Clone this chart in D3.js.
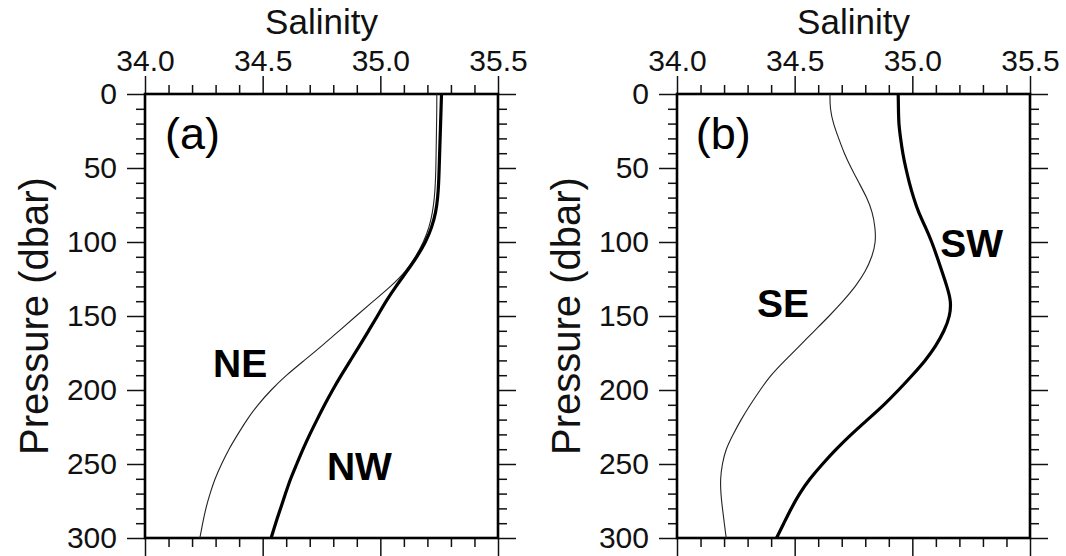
<!DOCTYPE html>
<html><head><meta charset="utf-8">
<script src="https://cdn.jsdelivr.net/npm/d3@7"></script>
<style>body{margin:0;background:#fff}svg{display:block}</style>
</head><body>
<svg id="chart" width="1066" height="556"></svg>
<script>
// ---- data ----
const pressure = [0,10,20,30,40,50,60,70,80,90,100,110,120,130,140,150,160,170,180,190,200,210,220,230,240,250,260,270,280,290,300];
const salNE = [35.24,35.24,35.239,35.238,35.237,35.236,35.234,35.23,35.222,35.208,35.184,35.15,35.108,35.045,34.97,34.897,34.825,34.753,34.677,34.600,34.535,34.479,34.433,34.394,34.356,34.325,34.297,34.276,34.258,34.245,34.233];
const salNW = [35.26,35.258,35.256,35.254,35.252,35.25,35.248,35.244,35.236,35.219,35.193,35.156,35.112,35.066,35.024,34.988,34.95,34.912,34.873,34.834,34.797,34.763,34.731,34.700,34.671,34.645,34.618,34.597,34.576,34.555,34.536];
const salSE = [34.65,34.65,34.664,34.687,34.71,34.74,34.773,34.807,34.831,34.842,34.845,34.829,34.801,34.759,34.706,34.647,34.584,34.522,34.459,34.398,34.353,34.311,34.272,34.238,34.207,34.192,34.184,34.186,34.193,34.201,34.209];
const salSW = [34.94,34.941,34.942,34.95,34.959,34.972,34.987,35.005,35.026,35.056,35.083,35.105,35.126,35.147,35.165,35.16,35.136,35.101,35.056,35.0,34.942,34.88,34.81,34.74,34.676,34.618,34.564,34.52,34.485,34.454,34.423];
const salinityTicks = [34.0,34.5,35.0,35.5];
const salinityMinor = [34.1,34.2,34.3,34.4,34.6,34.7,34.8,34.9,35.1,35.2,35.3,35.4];
const pressureTicks = [0,50,100,150,200,250,300];
const pressureMinor = [10,20,30,40,60,70,80,90,110,120,130,140,160,170,180,190,210,220,230,240,260,270,280,290];
const panelLabels = ["(a)","(b)"];
const seriesNames = [["NE","NW"],["SE","SW"]];

// ---- layout ----
const panelsCfg = [
  {offset:0, label:panelLabels[0], labelAt:[34.085,37],
   series:[{name:seriesNames[0][0], values:salNE, w:1.1, color:"#222", at:[34.289,191]},
           {name:seriesNames[0][1], values:salNW, w:3.2, color:"#000", at:[34.773,261]}]},
  {offset:532, label:panelLabels[1], labelAt:[34.08,37],
   series:[{name:seriesNames[1][0], values:salSE, w:1.1, color:"#222", at:[34.34,151]},
           {name:seriesNames[1][1], values:salSW, w:3.2, color:"#000", at:[35.119,110]}]}
];
const font = "'Liberation Sans', Arial, Helvetica, sans-serif";
const svg = d3.select("#chart");
const X0 = 145, X1 = 498, Y0 = 94, Y1 = 538;
const MAJ = 18, MIN = 9;

panelsCfg.forEach(p => {
  const g = svg.append("g").attr("transform", `translate(${p.offset},0)`);
  const x = d3.scaleLinear().domain([34.0,35.5]).range([X0,X1]);
  const y = d3.scaleLinear().domain([0,300]).range([Y0,Y1]);

  function styleAxis(sel){
    sel.select(".domain").remove();
    sel.selectAll(".tick line").attr("stroke","#111").attr("stroke-width",1.5);
    sel.selectAll(".tick text").attr("font-family",font).attr("font-size",30).attr("fill","#111");
  }
  // top axis
  g.append("g").attr("transform",`translate(0,${Y0})`)
    .call(d3.axisTop(x).tickValues(salinityTicks).tickSize(MAJ).tickPadding(5).tickFormat(d3.format(".1f"))).call(styleAxis);
  g.append("g").attr("transform",`translate(0,${Y0})`)
    .call(d3.axisTop(x).tickValues(salinityMinor).tickSize(MIN).tickFormat("")).call(styleAxis);
  // bottom axis
  g.append("g").attr("transform",`translate(0,${Y1})`)
    .call(d3.axisBottom(x).tickValues(salinityTicks).tickSize(MAJ).tickFormat("")).call(styleAxis);
  g.append("g").attr("transform",`translate(0,${Y1})`)
    .call(d3.axisBottom(x).tickValues(salinityMinor).tickSize(MIN).tickFormat("")).call(styleAxis);
  // left axis
  g.append("g").attr("transform",`translate(${X0},0)`)
    .call(d3.axisLeft(y).tickValues(pressureTicks).tickSize(MAJ).tickPadding(10)).call(styleAxis);
  g.append("g").attr("transform",`translate(${X0},0)`)
    .call(d3.axisLeft(y).tickValues(pressureMinor).tickSize(MIN).tickFormat("")).call(styleAxis);
  // right axis
  g.append("g").attr("transform",`translate(${X1},0)`)
    .call(d3.axisRight(y).tickValues(pressureTicks).tickSize(MAJ).tickFormat("")).call(styleAxis);
  g.append("g").attr("transform",`translate(${X1},0)`)
    .call(d3.axisRight(y).tickValues(pressureMinor).tickSize(MIN).tickFormat("")).call(styleAxis);

  // frame
  g.append("rect").attr("x",X0).attr("y",Y0).attr("width",X1-X0).attr("height",Y1-Y0)
    .attr("fill","none").attr("stroke","#000").attr("stroke-width",2.6);

  // axis titles
  g.append("text").attr("x",(X0+X1)/2).attr("y",34).attr("text-anchor","middle")
    .attr("font-family",font).attr("font-size",35).attr("fill","#111").text("Salinity");
  g.append("text").attr("transform",`translate(48,${(Y0+Y1)/2}) rotate(-90)`).attr("text-anchor","middle")
    .attr("font-family",font).attr("font-size",40).attr("fill","#111").text("Pressure (dbar)");

  // curves
  const line = d3.line().x(d=>x(d[1])).y(d=>y(d[0])).curve(d3.curveBasis);
  p.series.forEach(s => {
    g.append("path").datum(pressure.map((pp,i)=>[pp,s.values[i]]))
      .attr("d",line).attr("fill","none").attr("stroke",s.color).attr("stroke-width",s.w)
      .attr("stroke-linejoin","round");
    g.append("text").attr("x",x(s.at[0])).attr("y",y(s.at[1]))
      .attr("font-family",font).attr("font-weight","bold").attr("font-size",39).attr("fill","#000").text(s.name);
  });
  g.append("text").attr("x",x(p.labelAt[0])).attr("y",y(p.labelAt[1]))
    .attr("font-family",font).attr("font-size",45).attr("fill","#000").text(p.label);
});
</script>
</body></html>
